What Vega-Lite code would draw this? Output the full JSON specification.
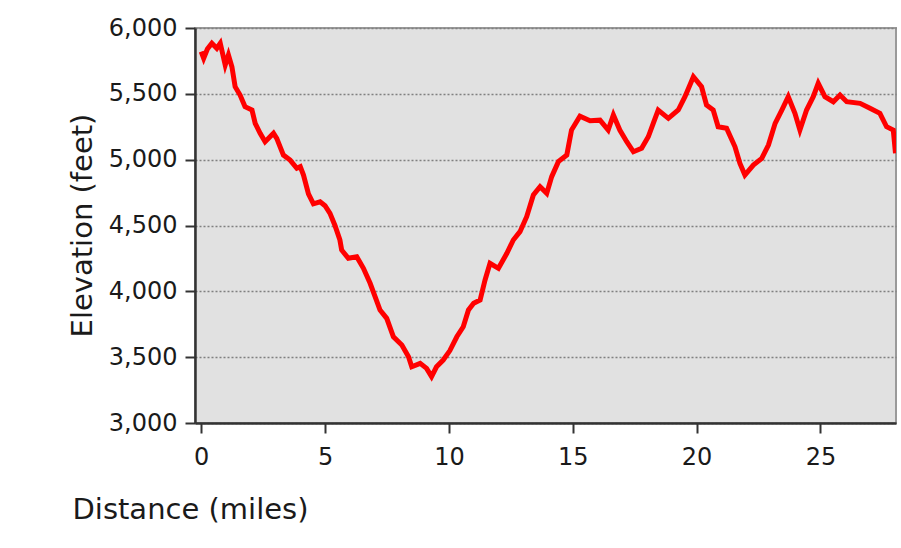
{
  "$schema": "https://vega.github.io/schema/vega-lite/v6.json",
  "autosize": {"type": "none"},
  "width": 701,
  "height": 395,
  "padding": {"left": 195, "top": 28, "right": 5, "bottom": 125},
  "background": "white",
  "config": {
    "view": {"fill": "#e1e1e1", "stroke": "#9a9a9a", "strokeWidth": 2},
    "font": "DejaVu Sans"
  },
  "data": {
    "values": [
      {"mile": 0.0, "elev": 5820}, {"mile": 0.1, "elev": 5770}, {"mile": 0.25, "elev": 5840},
      {"mile": 0.43, "elev": 5884}, {"mile": 0.63, "elev": 5846}, {"mile": 0.77, "elev": 5884},
      {"mile": 0.97, "elev": 5719}, {"mile": 1.1, "elev": 5795}, {"mile": 1.24, "elev": 5706},
      {"mile": 1.37, "elev": 5554}, {"mile": 1.57, "elev": 5491}, {"mile": 1.77, "elev": 5402},
      {"mile": 2.05, "elev": 5377}, {"mile": 2.18, "elev": 5276}, {"mile": 2.38, "elev": 5200},
      {"mile": 2.58, "elev": 5136}, {"mile": 2.92, "elev": 5200}, {"mile": 3.05, "elev": 5162},
      {"mile": 3.32, "elev": 5035}, {"mile": 3.59, "elev": 4997}, {"mile": 3.86, "elev": 4935},
      {"mile": 4.0, "elev": 4947}, {"mile": 4.13, "elev": 4883}, {"mile": 4.33, "elev": 4740},
      {"mile": 4.53, "elev": 4665}, {"mile": 4.8, "elev": 4680}, {"mile": 5.0, "elev": 4650},
      {"mile": 5.2, "elev": 4592}, {"mile": 5.4, "elev": 4500}, {"mile": 5.6, "elev": 4390},
      {"mile": 5.67, "elev": 4314}, {"mile": 5.94, "elev": 4251}, {"mile": 6.28, "elev": 4263},
      {"mile": 6.55, "elev": 4175}, {"mile": 6.82, "elev": 4061}, {"mile": 7.02, "elev": 3959},
      {"mile": 7.22, "elev": 3858}, {"mile": 7.49, "elev": 3795}, {"mile": 7.76, "elev": 3655},
      {"mile": 8.1, "elev": 3592}, {"mile": 8.37, "elev": 3503}, {"mile": 8.5, "elev": 3427},
      {"mile": 8.84, "elev": 3453}, {"mile": 9.1, "elev": 3415}, {"mile": 9.3, "elev": 3352},
      {"mile": 9.5, "elev": 3427}, {"mile": 9.77, "elev": 3478}, {"mile": 10.04, "elev": 3550},
      {"mile": 10.32, "elev": 3655}, {"mile": 10.58, "elev": 3731}, {"mile": 10.79, "elev": 3858},
      {"mile": 11.0, "elev": 3909}, {"mile": 11.26, "elev": 3934}, {"mile": 11.46, "elev": 4086},
      {"mile": 11.66, "elev": 4213}, {"mile": 12.0, "elev": 4175}, {"mile": 12.34, "elev": 4289},
      {"mile": 12.6, "elev": 4390}, {"mile": 12.87, "elev": 4453}, {"mile": 13.14, "elev": 4567},
      {"mile": 13.41, "elev": 4732}, {"mile": 13.68, "elev": 4795}, {"mile": 13.95, "elev": 4744},
      {"mile": 14.15, "elev": 4871}, {"mile": 14.42, "elev": 4985}, {"mile": 14.76, "elev": 5035},
      {"mile": 14.95, "elev": 5225}, {"mile": 15.29, "elev": 5330}, {"mile": 15.7, "elev": 5295},
      {"mile": 16.1, "elev": 5300}, {"mile": 16.43, "elev": 5225}, {"mile": 16.64, "elev": 5339},
      {"mile": 16.9, "elev": 5225}, {"mile": 17.18, "elev": 5136}, {"mile": 17.45, "elev": 5060},
      {"mile": 17.78, "elev": 5086}, {"mile": 18.05, "elev": 5174}, {"mile": 18.25, "elev": 5276},
      {"mile": 18.45, "elev": 5377}, {"mile": 18.86, "elev": 5314}, {"mile": 19.26, "elev": 5377},
      {"mile": 19.53, "elev": 5478}, {"mile": 19.87, "elev": 5630}, {"mile": 20.2, "elev": 5554},
      {"mile": 20.4, "elev": 5415}, {"mile": 20.67, "elev": 5377}, {"mile": 20.87, "elev": 5250},
      {"mile": 21.21, "elev": 5238}, {"mile": 21.55, "elev": 5098}, {"mile": 21.75, "elev": 4972},
      {"mile": 21.95, "elev": 4883}, {"mile": 22.29, "elev": 4959}, {"mile": 22.63, "elev": 5010},
      {"mile": 22.9, "elev": 5111}, {"mile": 23.17, "elev": 5276}, {"mile": 23.44, "elev": 5377},
      {"mile": 23.7, "elev": 5478}, {"mile": 23.97, "elev": 5352}, {"mile": 24.17, "elev": 5225},
      {"mile": 24.44, "elev": 5377}, {"mile": 24.71, "elev": 5478}, {"mile": 24.91, "elev": 5580},
      {"mile": 25.18, "elev": 5478}, {"mile": 25.52, "elev": 5440}, {"mile": 25.79, "elev": 5491},
      {"mile": 26.06, "elev": 5440}, {"mile": 26.6, "elev": 5428}, {"mile": 27.0, "elev": 5390},
      {"mile": 27.4, "elev": 5352}, {"mile": 27.67, "elev": 5250}, {"mile": 27.94, "elev": 5225},
      {"mile": 28.03, "elev": 5048}
    ]
  },
  "mark": {"type": "line", "color": "#ff0000", "strokeWidth": 5, "clip": true, "strokeJoin": "miter"},
  "encoding": {
    "x": {
      "field": "mile", "type": "quantitative",
      "scale": {"domain": [-0.25, 28.05], "nice": false, "zero": false},
      "axis": {
        "title": "Distance (miles)", "values": [0, 5, 10, 15, 20, 25], "grid": false,
        "domainColor": "#333333", "domainWidth": 2.5, "tickColor": "#333333", "tickWidth": 2, "tickSize": 10,
        "labelFontSize": 24, "labelColor": "#1a1a1a", "labelPadding": 12, "labelFont": "DejaVu Sans",
        "titleFontSize": 29, "titleFontWeight": "normal", "titleColor": "#1a1a1a", "titleFont": "DejaVu Sans",
        "titleAnchor": "start", "titleAlign": "left", "titleBaseline": "middle", "titleX": -123, "titleY": 86
      }
    },
    "y": {
      "field": "elev", "type": "quantitative",
      "scale": {"domain": [3000, 6000], "nice": false, "zero": false},
      "axis": {
        "title": "Elevation (feet)", "values": [3000, 3500, 4000, 4500, 5000, 5500, 6000], "format": ",.0f",
        "grid": true, "gridColor": "#808080", "gridDash": [2, 2], "gridWidth": 1.5,
        "domainColor": "#333333", "domainWidth": 2.5, "tickColor": "#333333", "tickWidth": 2, "tickSize": 10,
        "labelFontSize": 24, "labelColor": "#1a1a1a", "labelPadding": 8, "labelFont": "DejaVu Sans",
        "titleFontSize": 29, "titleFontWeight": "normal", "titleColor": "#1a1a1a", "titleFont": "DejaVu Sans",
        "titleAngle": -90, "titleAlign": "center", "titleBaseline": "middle", "titleX": -113, "titleY": 197
      }
    }
  }
}
